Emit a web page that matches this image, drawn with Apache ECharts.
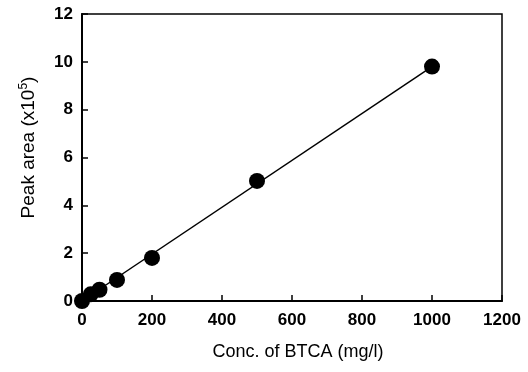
<!DOCTYPE html>
<html>
<head>
<meta charset="utf-8">
<script src="https://cdn.jsdelivr.net/npm/echarts@6/dist/echarts.min.js"></script>
<style>
	html, body { margin: 0; padding: 0; background: #fff; }
	#chart { width: 528px; height: 372px; }
</style>
</head>
<body>
<div id="chart"></div>
<script>
// measured points
const concValues = [0, 25, 50, 100, 200, 500, 1000];
const areaValues = [0, 0.28, 0.47, 0.88, 1.8, 5.02, 9.8];
// fitted line end points
const fitConc = [0, 1000];
const fitArea = [0, 9.8];
const xTicks = [0, 200, 400, 600, 800, 1000, 1200];
const yTicks = [0, 2, 4, 6, 8, 10, 12];

const font = 'Liberation Sans, Arial, sans-serif';
const chart = echarts.init(document.getElementById('chart'));

const option = {
	animation: false,
	grid: {
		left: 82,
		right: 26,
		top: 14,
		bottom: 71,
		show: true,
		borderColor: '#000',
		borderWidth: 1.5
	},
	xAxis: {
		type: 'value',
		min: xTicks[0],
		max: xTicks[xTicks.length - 1],
		interval: 200,
		name: 'Conc. of BTCA (mg/l)',
		nameLocation: 'middle',
		nameGap: 42,
		nameTextStyle: { fontFamily: font, fontSize: 18, color: '#000', padding: [0, 0, 0, 12] },
		axisLine: { lineStyle: { color: '#000', width: 2 } },
		axisTick: { inside: true, length: 6, lineStyle: { color: '#000', width: 1.5 } },
		axisLabel: {
			fontFamily: font, fontSize: 17, fontWeight: 'bold', color: '#000', margin: 11,
			formatter: (v) => String(v)
		},
		splitLine: { show: false }
	},
	yAxis: {
		type: 'value',
		min: yTicks[0],
		max: yTicks[yTicks.length - 1],
		interval: 2,
		name: '{a|Peak area (x10}{s|5}{a|)}',
		nameLocation: 'middle',
		nameRotate: 90,
		nameGap: 42,
		nameTextStyle: {
			padding: [0, 0, 0, 20],
			rich: {
				a: { fontFamily: font, fontSize: 19, color: '#000' },
				s: { fontFamily: font, fontSize: 12, color: '#000', padding: [0, 0, 10, 0] }
			}
		},
		axisLine: { lineStyle: { color: '#000', width: 2 } },
		axisTick: { inside: true, length: 6, lineStyle: { color: '#000', width: 1.5 } },
		axisLabel: {
			fontFamily: font, fontSize: 17, fontWeight: 'bold', color: '#000', margin: 9,
			formatter: (v) => String(v)
		},
		splitLine: { show: false }
	},
	series: [
		{
			type: 'line',
			data: fitConc.map((c, i) => [c, fitArea[i]]),
			showSymbol: false,
			lineStyle: { color: '#000', width: 1.5 },
			z: 2
		},
		{
			type: 'scatter',
			data: concValues.map((c, i) => [c, areaValues[i]]),
			symbol: 'circle',
			symbolSize: 16,
			itemStyle: { color: '#000', opacity: 1 },
			z: 3
		}
	]
};

chart.setOption(option);
</script>
</body>
</html>
